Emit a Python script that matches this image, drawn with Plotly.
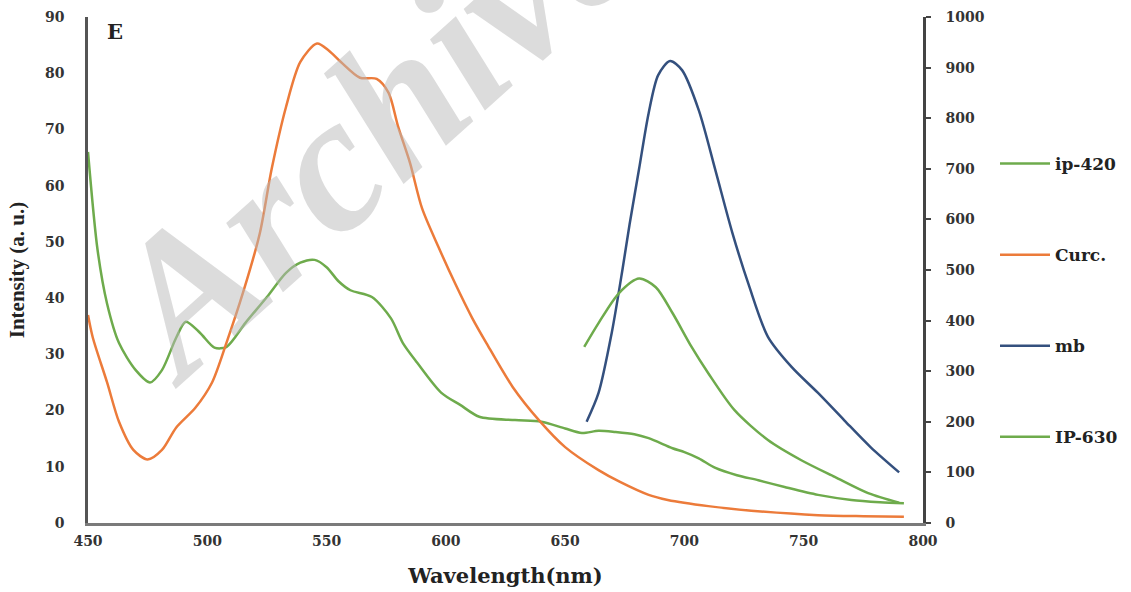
import plotly.graph_objects as go

# ---- data ----
curc_x = [450, 452, 458, 463, 469, 475, 481, 487, 495, 502, 508, 515, 522, 527, 533, 539, 546, 551, 556, 564, 571,
          576, 580, 585, 590, 597, 604, 611, 617, 628, 639, 650, 664, 673, 685, 693, 710, 728, 756, 775, 792]
curc_y = [37, 33, 25, 18, 13, 11.3, 13, 17, 20.5, 25, 32, 41, 51.5, 63, 74, 82, 85.3, 84, 82, 79.2, 79,
          76.5, 70.5, 64, 56, 49, 42.5, 36.5, 32, 24.2, 18.3, 13.5, 9.4, 7.3, 5.0, 4.1, 3.0, 2.2, 1.4, 1.2, 1.1]

ip420_x = [450, 454, 458, 463, 470, 476, 481, 487, 491, 497, 503, 508, 516, 525, 533, 539, 545, 550, 555, 560, 569,
           577, 582, 588, 598, 606, 614, 629, 640, 650, 657, 664, 671, 679, 685, 695, 700, 706, 713, 722, 731,
           742, 756, 770, 782, 792]
ip420_y = [66, 48.6, 39, 32, 27.2, 25, 27.2, 33, 35.8, 33.8, 31.2, 31.3, 35.6, 40.2, 44.5, 46.3, 46.8, 45.5, 43, 41.4, 40.2,
           36.4, 32, 28.5, 23.2, 21, 18.9, 18.3, 18, 16.8, 16, 16.4, 16.2, 15.8, 15.1, 13.3, 12.6, 11.5, 9.8, 8.5, 7.6,
           6.4, 5.0, 4.1, 3.7, 3.5]

mb_x = [659, 664, 669.5, 674, 677, 681, 685, 689, 694, 699, 706, 713, 720, 727, 735, 745, 756, 767, 778, 790]
mb_y = [200, 257, 375, 500, 590, 700, 810, 885, 913, 895, 816, 697, 575, 470, 368, 308, 257, 203, 150, 100]

ip630_x = [658, 664, 672.5, 681, 688, 695, 703, 710, 721, 735, 749, 763, 777, 790]
ip630_y = [348, 395, 454, 483, 466, 415, 348, 296, 223, 164, 124, 91, 59, 40]

left_ticks = list(range(0, 91, 10))
right_ticks = list(range(0, 1001, 100))
x_ticks = list(range(450, 801, 50))

GREEN = "#6EAB4C"
ORANGE = "#EC7B3A"
BLUE = "#34507E"
SERIF = "Liberation Serif"
WIDE = "DejaVu Serif"

fig = go.Figure()
fig.add_trace(go.Scatter(x=ip420_x, y=ip420_y, name="ip-420", mode="lines", legendgroup="a",
                         line=dict(color=GREEN, width=2.5, shape="spline", smoothing=0.8)))
fig.add_trace(go.Scatter(x=curc_x, y=curc_y, name="Curc.", mode="lines", legendgroup="b",
                         line=dict(color=ORANGE, width=2.5, shape="spline", smoothing=0.8)))
fig.add_trace(go.Scatter(x=mb_x, y=mb_y, name="mb", mode="lines", yaxis="y2", legendgroup="c",
                         line=dict(color=BLUE, width=2.5, shape="spline", smoothing=0.8)))
fig.add_trace(go.Scatter(x=ip630_x, y=ip630_y, name="IP-630", mode="lines", yaxis="y2", legendgroup="d",
                         line=dict(color=GREEN, width=2.5, shape="spline", smoothing=0.8)))

tickfont = dict(family=WIDE, size=14, color="#333333", weight="bold")

fig.update_layout(
    width=1131, height=592,
    margin=dict(l=88, r=208, t=17, b=69, autoexpand=False),
    paper_bgcolor="white", plot_bgcolor="white",
    font=dict(family=SERIF, color="#222222"),
    xaxis=dict(range=[450, 800], tickvals=x_ticks, showgrid=False, zeroline=False,
               showline=True, linecolor="#7a7a7a", linewidth=3, ticks="", ticklabelstandoff=3,
               tickfont=tickfont,
               title=dict(text="Wavelength(nm)", font=dict(family=WIDE, size=21, color="#222222", weight="bold"),
                          standoff=21)),
    yaxis=dict(range=[0, 90], tickvals=left_ticks, showgrid=False, zeroline=False,
               showline=True, linecolor="#555555", linewidth=2.5, ticks="", ticklabelstandoff=18,
               tickfont=tickfont,
               title=dict(text="Intensity (a. u.)", font=dict(family=SERIF, size=21, color="#222222", weight="bold"),
                          standoff=15)),
    yaxis2=dict(range=[0, 1000], tickvals=right_ticks, overlaying="y", side="right", anchor="x",
                showgrid=False, zeroline=False, showline=True, linecolor="#444444", linewidth=2.5,
                ticks="outside", ticklen=5, tickwidth=2, tickcolor="#444444", ticklabelstandoff=12,
                tickfont=tickfont),
    legend=dict(x=995 / 1131, xref="container", y=1 - 146 / 592, yref="container", yanchor="top",
                xanchor="left", tracegroupgap=66, traceorder="grouped", itemwidth=50, maxheight=500,
                font=dict(family=WIDE, size=17, color="#222222", weight="bold"),
                bgcolor="rgba(0,0,0,0)"),
    showlegend=True,
)

fig.add_annotation(text="E", x=(105 - 88) / 835, y=(523 - 17) / 506, xref="paper", yref="paper",
                   xanchor="left", yanchor="top",
                   showarrow=False, font=dict(family=WIDE, size=21, color="#222222", weight="bold"))

fig.add_annotation(text="<i>Archive</i>", x=(368 - 88) / 835, y=(523 - 127) / 506, xref="paper", yref="paper",
                   xanchor="center", yanchor="middle",
                   showarrow=False, textangle=-42,
                   font=dict(family=SERIF, size=195, color="rgba(185,185,185,0.5)", weight="bold"))

fig.write_html("out.html")
